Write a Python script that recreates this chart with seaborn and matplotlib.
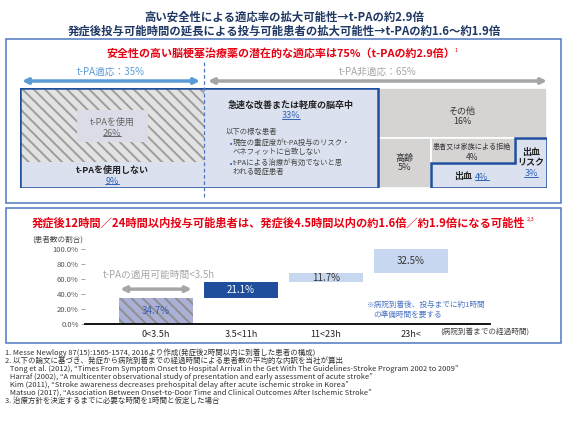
import numpy as np
import pandas as pd
import matplotlib
matplotlib.use("Agg")
import matplotlib.pyplot as plt
from matplotlib.patches import Rectangle, Polygon
import seaborn as sns

# top panel: breakdown of patients arriving within 2h (treemap)
tm_labels = ["t-PAを使用", "t-PAを使用しない", "急速な改善または軽度の脳卒中",
             "その他", "高齢", "患者又は家族による拒絶", "出血", "出血リスク"]
tm_shares = [26, 9, 33, 16, 5, 4, 4, 3]

# bottom panel: share of patients by time from onset to arrival (waterfall)
onset_bins = ["0<3.5h", "3.5<11h", "11<23h", "23h<"]
patient_share = [34.7, 21.1, 11.7, 32.5]
y_ticks = [0, 20, 40, 60, 80, 100]

footnotes = [
    "1. Messe Newlogy 87(15):1565-1574, 2016より作成(発症後2時間以内に到着した患者の構成)",
    "2. 以下の論文に基づき、発症から病院到着までの経過時間による患者数の平均的な内訳を当社が算出",
    "   Tong et al. (2012), \u201cTimes From Symptom Onset to Hospital Arrival in the Get With The Guidelines-Stroke Program 2002 to 2009\u201d",
    "   Harraf (2002), \u201cA multicenter observational study of presentation and early assessment of acute stroke\u201d",
    "   Kim (2011), \u201cStroke awareness decreases prehospital delay after acute ischemic stroke in Korea\u201d",
    "   Matsuo (2017), \u201cAssociation Between Onset-to-Door Time and Clinical Outcomes After Ischemic Stroke\u201d",
    "3. 治療方針を決定するまでに必要な時間を1時間と仮定した場合",
]

NAVY = "#1f3864"
RED = "#e60012"
BOX = "#4f78c0"
DARK = "#1f4e9c"
LIGHT = "#dbe1ee"
GRAY = "#d6d3d3"
LINK = "#2e62b8"

sns.set_theme(style="white")
plt.rcParams["font.family"] = ["Noto Sans CJK JP", "DejaVu Sans"]
plt.rcParams["hatch.linewidth"] = 1.4

W, H = 567, 423
fig = plt.figure(figsize=(W / 100, H / 100), dpi=100)


def px_axes(x0, y0, x1, y1, **kw):
    return fig.add_axes([x0 / W, 1 - y1 / H, (x1 - x0) / W, (y1 - y0) / H], **kw)


# ---- treemap ----
tm = px_axes(20, 88, 547, 188)
tm.set_xlim(0, 100)
tm.set_ylim(100, 0)
tm.axis("off")

s = dict(zip(tm_labels, tm_shares))
left_w = s["t-PAを使用"] + s["t-PAを使用しない"]
use_h = 100 * s["t-PAを使用"] / left_w
mid_w = s["急速な改善または軽度の脳卒中"]
right_x = left_w + mid_w
right_w = 100 - right_x
other_h = 100 * s["その他"] / right_w
low_h = 100 - other_h
low_total = s["高齢"] + s["患者又は家族による拒絶"] + s["出血"] + s["出血リスク"]
age_w = right_w * s["高齢"] / low_total
rest_x = right_x + age_w
rest_w = right_w - age_w
risk_w = rest_w * s["出血リスク"] / (low_total - s["高齢"])
pair_w = rest_w - risk_w
pair_h = low_h / 2

tm.add_patch(Rectangle((0, 0), left_w, use_h, facecolor="#e2e2e2",
                       edgecolor="#9d9d9d", hatch="\\\\\\", lw=0))
tm.add_patch(Rectangle((0, use_h), left_w, 100 - use_h, facecolor=LIGHT, lw=0))
tm.add_patch(Rectangle((left_w, 0), mid_w, 100, facecolor=LIGHT, lw=0))
for rect in [(right_x, 0, right_w, other_h),
             (right_x, other_h, age_w, low_h),
             (rest_x, other_h, pair_w, pair_h)]:
    tm.add_patch(Rectangle(rect[:2], rect[2], rect[3], facecolor=GRAY,
                           edgecolor="white", lw=1.2))
tm.add_patch(Rectangle((rest_x, other_h + pair_h), pair_w, pair_h, facecolor=LIGHT, lw=0))
tm.add_patch(Rectangle((rest_x + pair_w, other_h), risk_w, low_h, facecolor=LIGHT, lw=0))

tm.add_patch(Rectangle((0, 0), right_x, 100, fill=False, edgecolor=DARK, lw=1.8))
tm.add_patch(Polygon([(rest_x, other_h + pair_h), (rest_x + pair_w, other_h + pair_h),
                      (rest_x + pair_w, other_h), (100, other_h), (100, 100), (rest_x, 100)],
                     closed=True, fill=False, edgecolor=DARK, lw=1.8))

# ---- waterfall bar chart ----
bars = pd.DataFrame({"onset": onset_bins, "share": patient_share})
bars["start"] = bars["share"].cumsum() - bars["share"]

ax = px_axes(85, 249, 490, 324)
sns.barplot(data=bars, x="onset", y="share", order=onset_bins, width=0.87,
            bottom=bars["start"].to_numpy(), color=LIGHT, ax=ax)
bar_colors = ["#aab0d6", DARK, "#c7d7ef", "#c7d7ef"]
for patch, c in zip(ax.patches, bar_colors):
    patch.set_facecolor(c)
    patch.set_linewidth(0)
ax.patches[0].set_hatch("\\\\\\")
ax.patches[0].set_edgecolor("#8f8f8f")

labels = ax.bar_label(ax.containers[0], labels=[f"{v}%" for v in patient_share],
                      label_type="center", fontsize=7)
for t, c in zip(labels, ["#3f5aa8", "white", "#333333", "#333333"]):
    t.set_color(c)

ax.set_xlim(-0.835, 3.93)
ax.set_ylim(0, 100)
ax.set_yticks(y_ticks)
ax.set_yticklabels([f"{v:.1f}%" for v in y_ticks])
ax.set_xlabel("")
ax.set_ylabel("")
sns.despine(ax=ax, left=True)
ax.spines["bottom"].set_color("black")
ax.spines["bottom"].set_linewidth(1.3)
ax.tick_params(axis="y", left=True, length=3, width=0.6, color="#999999",
               labelsize=5.5, labelcolor="#555555", pad=1.5)
ax.tick_params(axis="x", length=0, labelsize=6.5, labelcolor="#222222", pad=4)
ax.patch.set_alpha(0)

ax.annotate("", xy=(-0.42, 46.5), xytext=(0.42, 46.5), annotation_clip=False,
            arrowprops=dict(arrowstyle="<|-|>", color="#a6a6a6", lw=2.5,
                            mutation_scale=8, shrinkA=0, shrinkB=0))
ax.text(0.03, 65, "t-PAの適用可能時間<3.5h", ha="center", va="center",
        fontsize=7, color="#a6a6a6")

# ---- overlay: frames, titles, annotations ----
ov = fig.add_axes([0, 0, 1, 1], zorder=5)
ov.set_xlim(0, W)
ov.set_ylim(H, 0)
ov.axis("off")

ov.text(284, 17, "高い安全性による適応率の拡大可能性→t-PAの約2.9倍", ha="center",
        va="center", fontsize=8.2, fontweight="bold", color=NAVY)
ov.text(284, 31, "発症後投与可能時間の延長による投与可能患者の拡大可能性→t-PAの約1.6～約1.9倍",
        ha="center", va="center", fontsize=8.2, fontweight="bold", color=NAVY)

ov.add_patch(Rectangle((6, 39), 555, 164, fill=False, edgecolor=BOX, lw=1.1))
ov.add_patch(Rectangle((6, 208), 555, 135, fill=False, edgecolor=BOX, lw=1.1))

ov.text(281, 53, "安全性の高い脳梗塞治療薬の潜在的な適応率は75%（t-PAの約2.9倍）",
        ha="center", va="center", fontsize=7.9, fontweight="bold", color=RED)
ov.text(455, 50, "1", ha="left", va="center", fontsize=4, color=RED)

ov.annotate("", xy=(22, 81), xytext=(200, 81),
            arrowprops=dict(arrowstyle="<|-|>", color="#5b9bd5", lw=2.5,
                            mutation_scale=8, shrinkA=0, shrinkB=0))
ov.annotate("", xy=(208, 81), xytext=(547, 81),
            arrowprops=dict(arrowstyle="<|-|>", color="#a6a6a6", lw=2.5,
                            mutation_scale=8, shrinkA=0, shrinkB=0))
ov.text(111, 72, "t-PA適応：35%", ha="center", va="center", fontsize=7, color="#5b9bd5")
ov.text(378, 72, "t-PA非適応：65%", ha="center", va="center", fontsize=7, color="#a6a6a6")
ov.plot([204, 204], [62, 197], ls=(0, (3, 2)), color=BOX, lw=0.9)

ov.add_patch(Rectangle((77, 110), 71, 32, facecolor="#dcdce8", lw=0))

underlined = []


def label(x, y, txt, size=6.5, color="#333333", weight="normal", ha="center", link=False):
    t = ov.text(x, y, txt, ha=ha, va="center", fontsize=size, color=color, fontweight=weight)
    if link:
        underlined.append(t)
    return t


label(112, 122, "t-PAを使用", color="#666666")
label(112, 133, "26%", color="#666666", link=True)
label(112, 170, "t-PAを使用しない", weight="bold", color="#222222")
label(112, 181, "9%", color=LINK, link=True)

label(291, 105, "急速な改善または軽度の脳卒中", weight="bold", color="#222222")
label(291, 116, "33%", color=LINK, link=True)
label(226, 132, "以下の様な患者", size=5.3, color="#444444", ha="left")
for y, txt in [(143, "現在の重症度がt-PA投与のリスク・"), (163, "t-PAによる治療が有効でないと思")]:
    label(228, y, "\u25aa", size=4.5, color=LINK, ha="left")
    label(233, y, txt, size=5.3, color="#444444", ha="left")
label(233, 152, "ベネフィットに合致しない", size=5.3, color="#444444", ha="left")
label(233, 172, "われる軽症患者", size=5.3, color="#444444", ha="left")

label(462, 111, "その他")
label(462, 121, "16%")
label(404, 158, "高齢")
label(404, 168, "5%")
label(472, 147, "患者又は家族による拒絶", size=5.1)
label(472, 157, "4%", size=6)
label(463, 177, "出血", weight="bold", color="#222222")
label(482, 177, "4%", color=LINK, link=True)
label(531, 152, "出血", weight="bold", color="#222222")
label(531, 163, "リスク", weight="bold", color="#222222")
label(531, 174, "3%", color=LINK, link=True)

t2 = ov.text(32, 223, "発症後12時間／24時間以内投与可能患者は、発症後4.5時間以内の約1.6倍／約1.9倍になる可能性",
             ha="left", va="center", fontsize=8.1, fontweight="bold", color=RED)
label(58, 240, "(患者数の割合)", size=5.5, color="#444444")
label(367, 305, "※病院到着後、投与までに約1時間", size=5.5, color="#4a74c4", ha="left")
label(373, 315, "の準備時間を要する", size=5.5, color="#4a74c4", ha="left")
label(440, 333, "(病院到着までの経過時間)", size=5.5, color="#444444", ha="left")

for i, line in enumerate(footnotes):
    ov.text(5, 353 + i * 8, line, ha="left", va="center", fontsize=5.4, color="#333333")

# underlines and superscript need measured text extents
r = fig.canvas.get_renderer()
inv = ov.transData.inverted()
for t in underlined:
    bb = t.get_window_extent(r)
    (x0, y0), (x1, _) = inv.transform([(bb.x0, bb.y0 + 1.5), (bb.x1, bb.y0)])
    ov.plot([x0, x1], [y0, y0], color=t.get_color(), lw=0.7)
bb = t2.get_window_extent(r)
xe, _ = inv.transform((bb.x1, bb.y1))
ov.text(xe + 1, 219, "2,3", ha="left", va="center", fontsize=4, color=RED)

fig.savefig("out.png", dpi=100)
